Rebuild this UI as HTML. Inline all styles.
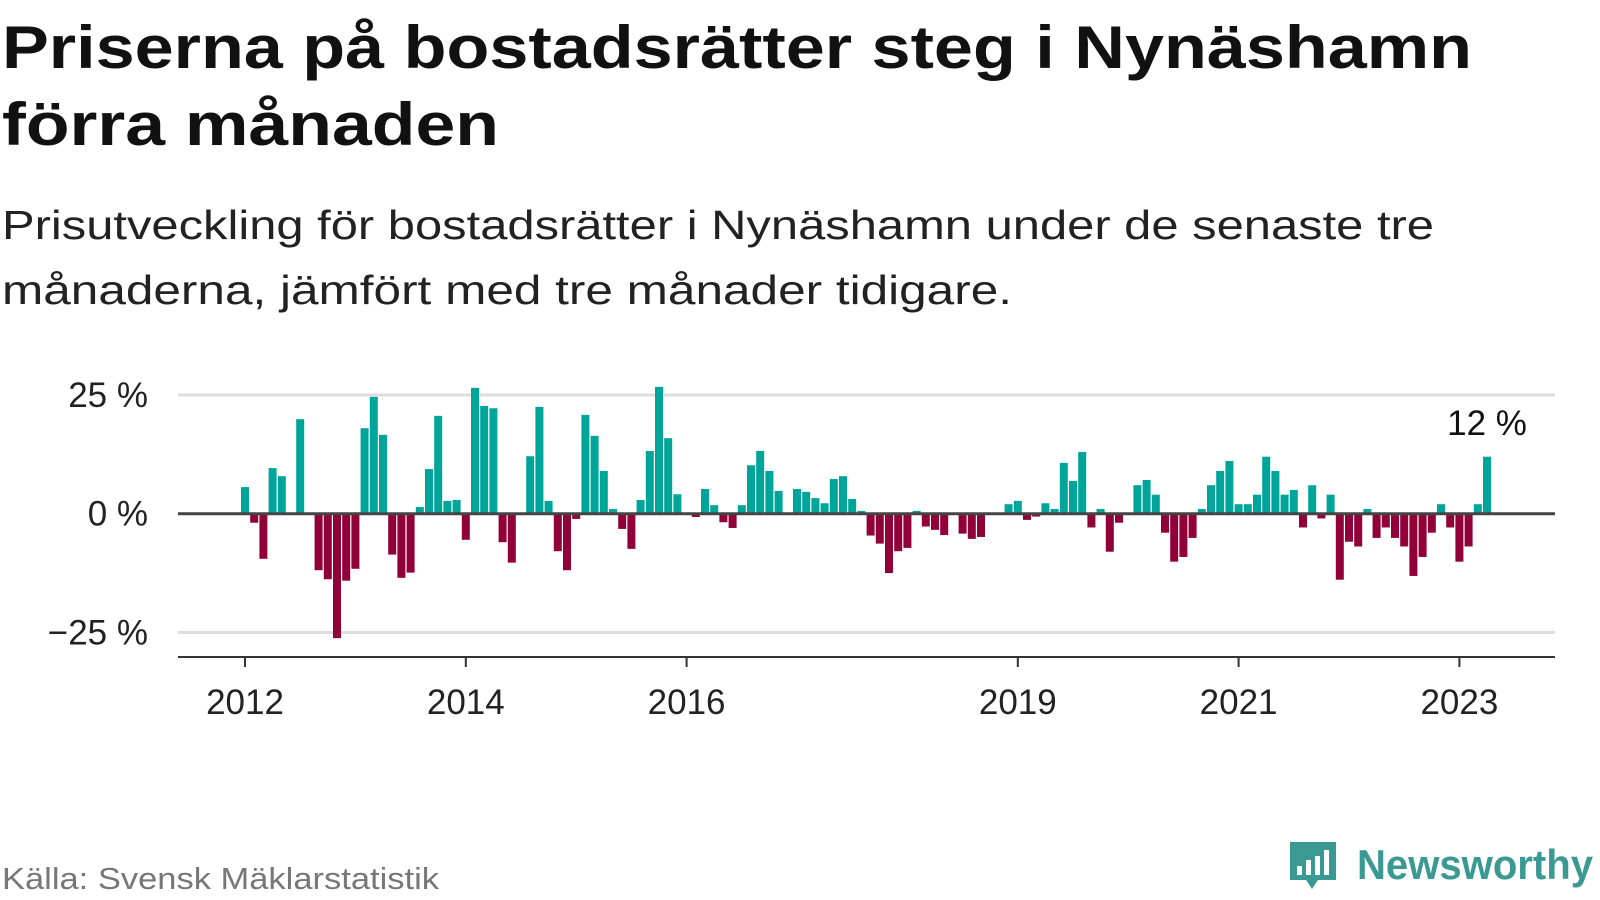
<!DOCTYPE html>
<html><head><meta charset="utf-8"><style>
html,body{margin:0;padding:0;background:#fff;width:1600px;height:900px;overflow:hidden;font-family:"Liberation Sans",sans-serif}
</style></head><body>
<svg id="chart" width="1600" height="900" xmlns="http://www.w3.org/2000/svg">
<text x="2" y="68" font-size="60" font-weight="bold" fill="#111" textLength="1470" lengthAdjust="spacingAndGlyphs">Priserna på bostadsrätter steg i Nynäshamn</text>
<text x="2" y="145" font-size="60" font-weight="bold" fill="#111" textLength="497" lengthAdjust="spacingAndGlyphs">förra månaden</text>
<text x="2" y="239" font-size="41" fill="#222" textLength="1432" lengthAdjust="spacingAndGlyphs">Prisutveckling för bostadsrätter i Nynäshamn under de senaste tre</text>
<text x="2" y="304" font-size="41" fill="#222" textLength="1010" lengthAdjust="spacingAndGlyphs">månaderna, jämfört med tre månader tidigare.</text>
<g id="grid"></g><g id="bars"></g><g id="axes"></g>
<text x="2" y="889" font-size="31" fill="#777" textLength="437" lengthAdjust="spacingAndGlyphs">Källa: Svensk Mäklarstatistik</text>
<g>
<path d="M1290 842 h46 v38 h-18 l-6 9 l-6 -9 h-16 z" fill="#3a9a93"/>
<rect x="1297" y="866" width="5" height="9" fill="#fff"/><rect x="1306" y="860" width="5" height="15" fill="#fff"/><rect x="1315" y="856" width="5" height="19" fill="#fff"/><rect x="1324" y="850" width="5" height="25" fill="#fff"/>
<text x="1357" y="879" font-size="42" font-weight="bold" fill="#3a9a93" textLength="236" lengthAdjust="spacingAndGlyphs">Newsworthy</text>
</g>
</svg>
<script>
const values = [5.6,-1.9,-9.5,9.6,7.9,0,19.9,0,-11.9,-13.8,-26.2,-14.1,-11.6,18.0,24.6,16.6,-8.6,-13.5,-12.4,1.4,9.4,20.6,2.7,2.9,-5.5,26.5,22.7,22.2,-6.0,-10.3,0,12.1,22.5,2.7,-7.9,-11.9,-1.1,20.8,16.4,9.0,1.0,-3.2,-7.4,2.9,13.2,26.7,15.9,4.1,0,-0.7,5.2,1.8,-1.8,-3.0,1.8,10.2,13.2,9.0,4.8,0,5.2,4.6,3.3,2.2,7.3,7.9,3.1,0.6,-4.6,-6.3,-12.5,-7.9,-7.2,0.6,-2.7,-3.4,-4.5,0,-4.2,-5.3,-4.9,0,0,2.0,2.7,-1.3,-0.6,2.2,1.0,10.7,6.9,13.0,-2.9,1.0,-8.0,-1.9,0,6.0,7.1,4.0,-4.0,-10.1,-9.1,-5.1,1.0,6.0,9.0,11.1,2.0,2.0,4.0,12.0,9.0,4.0,5.0,-2.9,6.0,-1.0,4.0,-13.9,-5.9,-6.9,1.0,-5.1,-2.9,-5.1,-6.9,-13.1,-9.1,-4.0,2.0,-2.9,-10.1,-6.9,2.0,12.0];
const yTicks = [25,0,-25];
const yTickLabels = ["25 %","0 %","−25 %"];
const xTickIdx = [0,24,48,84,108,132];
const xTickLabels = ["2012","2014","2016","2019","2021","2023"];
const NS="http://www.w3.org/2000/svg";
const x = i => 245 + i*9.2;
const y = v => 513.7 - v*4.75;
function mk(tag, attrs, parent){const e=document.createElementNS(NS,tag);for(const k in attrs)e.setAttribute(k,attrs[k]);parent.appendChild(e);return e;}
const grid=document.getElementById('grid'),bars=document.getElementById('bars'),axes=document.getElementById('axes');
yTicks.forEach((t,i)=>{
  if(t!==0){const l=mk('line',{x1:178,x2:1555,y1:y(t),y2:y(t),stroke:'#ddd','stroke-width':3},grid);
  
  }
  const tx=mk('text',{x:148,y:y(t)+12,'font-size':35,fill:'#222','text-anchor':'end'},axes);
  tx.textContent=yTickLabels[i];
  
  
});
values.forEach((v,i)=>{
  if(v===0)return;
  const r=mk('rect',{x:x(i)-4,width:8,y:Math.min(y(v),y(0)),height:Math.abs(y(v)-y(0)),fill:v>0?'#00a59a':'#92003a'},bars);
  
  
});
const z=mk('line',{x1:178,x2:1555,y1:y(0),y2:y(0),stroke:'#444','stroke-width':3},axes);


const xa=mk('line',{x1:178,x2:1555,y1:657,y2:657,stroke:'#333','stroke-width':2},axes);


xTickIdx.forEach((m,i)=>{
  const t=mk('line',{x1:x(m),x2:x(m),y1:657,y2:667,stroke:'#333','stroke-width':2},axes);
  
  
  const tx=mk('text',{x:x(m),y:714,'font-size':35,fill:'#222','text-anchor':'middle'},axes);
  tx.textContent=xTickLabels[i];
  
  
});
const last=values.length-1;
const lab=mk('text',{x:x(last),y:435,'font-size':35,fill:'#111','text-anchor':'middle'},axes);
lab.textContent=Math.round(values[last])+" %";


</script>
</body></html>
